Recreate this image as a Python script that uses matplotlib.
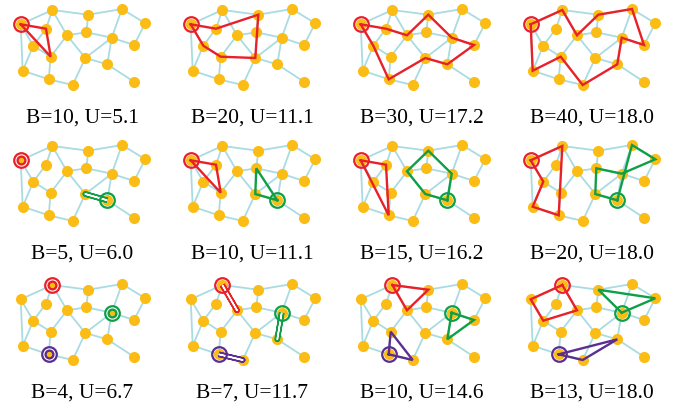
import matplotlib
matplotlib.use("Agg")
import matplotlib.pyplot as plt

# node positions (panel-local pixel units, y down)
node_names = ["A", "B", "C", "D", "E", "F", "G", "H", "I", "J",
              "K", "L", "M", "N", "O", "P", "Q", "R"]
node_x = [20.7, 52.3, 88.3, 122.0, 145.3, 46.0, 67.0, 86.3, 111.7, 134.0,
          33.3, 50.7, 85.3, 107.3, 22.7, 48.7, 72.7, 134.3]
node_y = [24.3, 10.0, 14.7, 9.0, 23.3, 28.7, 35.3, 32.3, 37.7, 45.0,
          45.7, 56.7, 58.0, 64.3, 70.7, 79.3, 85.0, 82.0]

edges = ["AB", "BC", "CD", "DE", "DI", "EJ", "BF", "BG", "CH", "GH",
         "HI", "IJ", "IM", "IN", "FK", "AK", "AO", "KO", "KL", "GL",
         "GM", "MQ", "LP", "OP", "PQ", "MN", "NR"]

# routes per panel: (colour key, node sequence)
routes = [
    [("red", "AFLA")],
    [("red", "AFCMLKA")],
    [("red", "AFGCIJNMPKA")],
    [("red", "ABGCDJINQLOA")],
    [("red", "A"), ("green", "NMN")],
    [("red", "AFLA"), ("green", "NHMN")],
    [("red", "AFPA"), ("green", "NMGCIN")],
    [("red", "ABPOKA"), ("green", "NDEIHMN")],
    [("red", "B"), ("green", "I"), ("purple", "P")],
    [("red", "BGB"), ("green", "INI"), ("purple", "PQP")],
    [("red", "BCGB"), ("green", "IJNI"), ("purple", "PLQP")],
    [("red", "BGKAB"), ("green", "ICEI"), ("purple", "PNQP")],
]

labels = ["B=10, U=5.1", "B=20, U=11.1", "B=30, U=17.2", "B=40, U=18.0",
          "B=5, U=6.0", "B=10, U=11.1", "B=15, U=16.2", "B=20, U=18.0",
          "B=4, U=6.7", "B=7, U=11.7", "B=10, U=14.6", "B=13, U=18.0"]

colors = {"red": "#E8202A", "green": "#0E9F48", "purple": "#5B2E91"}
node_color = "#FBBD15"
edge_color = "#A8DCE2"

W, H = 678, 408
col_off = [0, 170, 340, 510]
row_off = [0, 136, 275]
pw, ph = 170, 133

pos = {n: (x, y) for n, x, y in zip(node_names, node_x, node_y)}

fig = plt.figure(figsize=(W / 100, H / 100), dpi=100)

for i in range(12):
    r, c = divmod(i, 4)
    ax = fig.add_axes([col_off[c] / W, 1 - (row_off[r] + ph) / H, pw / W, ph / H])
    ax.set_xlim(0, pw)
    ax.set_ylim(ph, 0)
    ax.axis("off")

    for e in edges:
        (x1, y1), (x2, y2) = pos[e[0]], pos[e[1]]
        ax.plot([x1, x2], [y1, y2], color=edge_color, lw=1.3, zorder=1,
                solid_capstyle="round")
    ax.plot(node_x, node_y, "o", color=node_color, ms=8.0, mew=0, zorder=2)

    for ckey, seq in routes[i]:
        col = colors[ckey]
        dx, dy = pos[seq[0]]
        xs = [pos[n][0] for n in seq]
        ys = [pos[n][1] for n in seq]
        if len(seq) == 1:
            # depot with empty tour: double ring
            ax.plot(dx, dy, "o", mfc="white", mec=col, mew=1.6, ms=10.5, zorder=4)
            ax.plot(dx, dy, "o", mfc=node_color, mec=col, mew=1.7, ms=5.6, zorder=5)
            continue
        if len(seq) == 3:
            # out-and-back tour: double line
            ax.plot(xs, ys, color=col, lw=4.0, zorder=3, solid_capstyle="butt")
            ax.plot(xs, ys, color="white", lw=1.1, zorder=3.1, solid_capstyle="butt")
        else:
            ax.plot(xs, ys, color=col, lw=1.7, zorder=3, solid_joinstyle="miter")
        ax.plot(dx, dy, "o", mfc="none", mec=col, mew=1.6, ms=10.5, zorder=4)

    ax.text(82, 122.5, labels[i], ha="center", va="baseline",
            fontsize=15.5, family="Liberation Serif")

fig.savefig("out.png", dpi=100)
